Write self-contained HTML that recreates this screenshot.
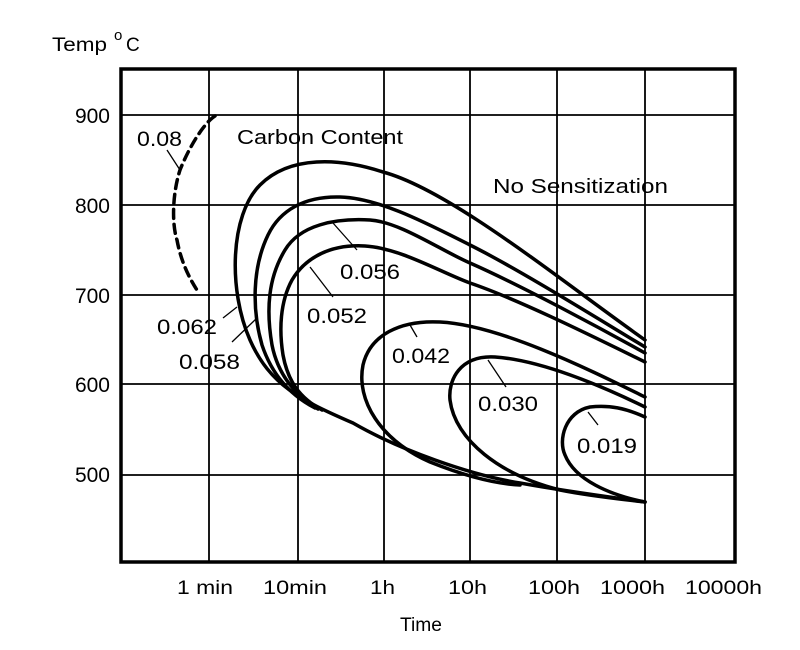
<!DOCTYPE html>
<html><head><meta charset="utf-8"><style>
html,body{margin:0;padding:0;background:#fff;}
svg{display:block;}
text{font-family:"Liberation Sans",Arial,sans-serif;fill:#000;}
</style></head><body>
<svg width="800" height="650" viewBox="0 0 800 650" xmlns="http://www.w3.org/2000/svg">
<rect width="800" height="650" fill="#fff"/>
<g stroke="#000" stroke-width="1.8" fill="none">
<line x1="209" y1="69" x2="209" y2="562"/>
<line x1="298" y1="69" x2="298" y2="562"/>
<line x1="384" y1="69" x2="384" y2="562"/>
<line x1="470" y1="69" x2="470" y2="562"/>
<line x1="557" y1="69" x2="557" y2="562"/>
<line x1="645" y1="69" x2="645" y2="562"/>
<line x1="121" y1="115" x2="735" y2="115"/>
<line x1="121" y1="205" x2="735" y2="205"/>
<line x1="121" y1="295" x2="735" y2="295"/>
<line x1="121" y1="384" x2="735" y2="384"/>
<line x1="121" y1="475" x2="735" y2="475"/>
</g>
<rect x="121" y="69" width="614" height="493" fill="none" stroke="#000" stroke-width="3.5"/>
<g stroke="#000" stroke-width="3.5" fill="none" stroke-linecap="round">
<path d="M645,340 C560,280 450,190 383,172 C340,158 290,155 260,185 C230,215 228,290 250,340 C270,385 300,400 353,423 C400,450 470,475 520,483 C570,492 610,497 645,502"/>
<path d="M645,347 C600,320 520,270 470,245 C430,225 380,198 340,197 C305,196 280,210 268,235 C252,268 252,310 262,345 C272,375 290,395 315,408"/>
<path d="M645,353 C600,328 520,285 470,263 C440,250 400,222 370,220 C335,218 300,225 285,250 C268,278 266,310 272,345 C278,375 295,395 318,409"/>
<path d="M645,362 C600,340 520,300 470,283 C440,272 400,248 365,246 C330,244 305,258 292,280 C280,302 279,330 283,355 C288,382 300,398 322,410"/>
<path d="M645,397 C590,370 500,325 440,322 C400,320 370,335 363,365 C356,400 380,440 430,462 C470,478 500,484 520,485"/>
<path d="M645,407 C600,385 540,360 495,357 C460,355 448,380 450,400 C455,440 500,475 560,490 C590,496 620,499 645,502"/>
<path d="M645,417 C625,408 610,405 590,407 C565,412 558,440 565,455 C575,480 610,495 645,502"/>
<path d="M215,116 C205,122 190,145 180,170 C172,195 172,225 177,240 C181,262 190,280 199,293" stroke-dasharray="9,6"/>
</g>
<g stroke="#000" stroke-width="1.3">
<line x1="333" y1="223" x2="357" y2="250"/>
<line x1="310" y1="267" x2="333" y2="297"/>
<line x1="410" y1="325" x2="417" y2="337"/>
<line x1="488" y1="360" x2="506" y2="387"/>
<line x1="588" y1="412" x2="598" y2="425"/>
<line x1="223" y1="318" x2="237" y2="307"/>
<line x1="232" y1="342" x2="257" y2="318"/>
<line x1="167" y1="150" x2="180" y2="170"/>
</g>
<g font-size="21">
<text x="340" y="279" textLength="60" lengthAdjust="spacingAndGlyphs">0.056</text>
<text x="307" y="323" textLength="60" lengthAdjust="spacingAndGlyphs">0.052</text>
<text x="392" y="363" textLength="58" lengthAdjust="spacingAndGlyphs">0.042</text>
<text x="478" y="411" textLength="60" lengthAdjust="spacingAndGlyphs">0.030</text>
<text x="577" y="453" textLength="60" lengthAdjust="spacingAndGlyphs">0.019</text>
<text x="157" y="334" textLength="60" lengthAdjust="spacingAndGlyphs">0.062</text>
<text x="179" y="369" textLength="61" lengthAdjust="spacingAndGlyphs">0.058</text>
<text x="137" y="146" textLength="45" lengthAdjust="spacingAndGlyphs">0.08</text>
<text x="237" y="144" textLength="166" lengthAdjust="spacingAndGlyphs" font-size="20">Carbon Content</text>
<text x="493" y="193" textLength="175" lengthAdjust="spacingAndGlyphs" font-size="20">No Sensitization</text>
</g>
<g font-size="21" text-anchor="end">
<text x="110" y="123">900</text>
<text x="110" y="213">800</text>
<text x="110" y="303">700</text>
<text x="110" y="392">600</text>
<text x="110" y="482">500</text>
</g>
<g font-size="19">
<text x="177" y="594" textLength="56" lengthAdjust="spacingAndGlyphs">1 min</text>
<text x="263" y="594" textLength="64" lengthAdjust="spacingAndGlyphs">10min</text>
<text x="370" y="594" textLength="25" lengthAdjust="spacingAndGlyphs">1h</text>
<text x="448" y="594" textLength="39" lengthAdjust="spacingAndGlyphs">10h</text>
<text x="528" y="594" textLength="52" lengthAdjust="spacingAndGlyphs">100h</text>
<text x="600" y="594" textLength="65" lengthAdjust="spacingAndGlyphs">1000h</text>
<text x="685" y="594" textLength="77" lengthAdjust="spacingAndGlyphs">10000h</text>
<text x="400" y="631" textLength="42" lengthAdjust="spacingAndGlyphs">Time</text>
<text x="52" y="51" textLength="55" lengthAdjust="spacingAndGlyphs">Temp</text>
<text x="114" y="40" font-size="15">o</text>
<text x="126" y="51">C</text>
</g>
</svg>
</body></html>
